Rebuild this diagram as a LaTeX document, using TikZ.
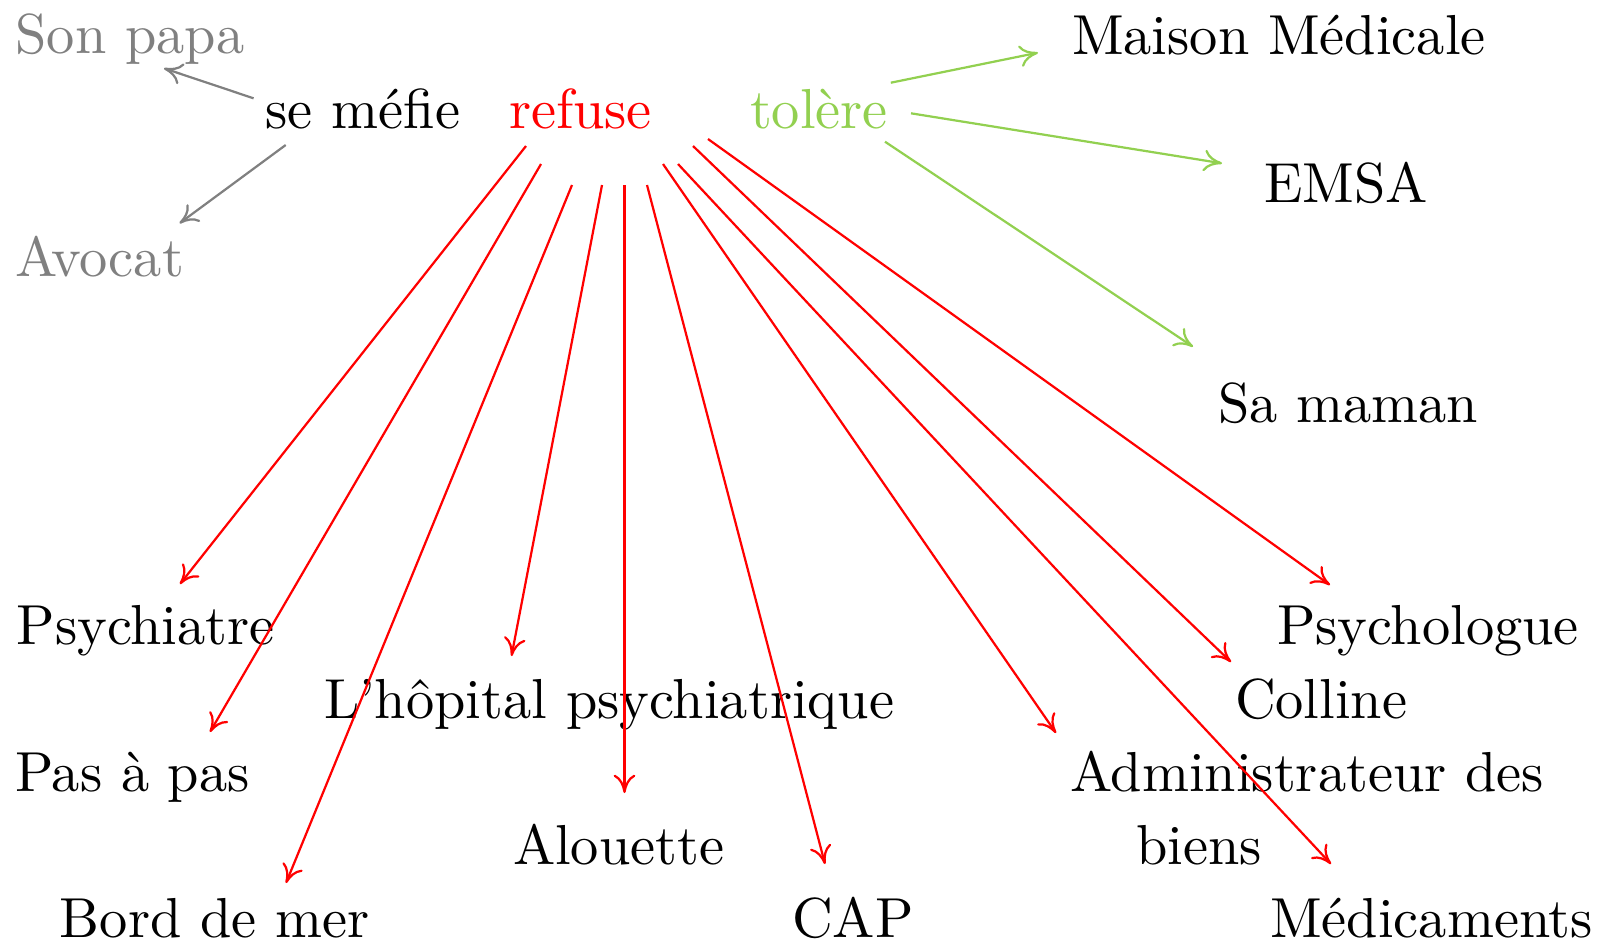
\documentclass[tikz,border=0pt]{standalone}
\usetikzlibrary{calc,arrows.meta}
\definecolor{lgreen}{RGB}{146,208,80}
\begin{document}
\begin{tikzpicture}[x=0.18pt,y=-0.18pt,
  lbl/.style={anchor=base west,inner sep=0pt,outer sep=0pt,font=\fontsize{10.15}{13.1}\selectfont},
  link/.style={-{To[length=3.3pt,width=3.9pt]},line width=0.4pt}]
\useasboundingbox (0,0) rectangle (1602,944);
% nodes
\node[lbl,text=gray] (sonpapa) at (15.6,53) {Son papa};
\node[lbl] (semefie) at (265.6,128) {se méfie};
\node[lbl,text=red] (refuse) at (509,128) {refuse};
\node[lbl,text=lgreen] (tolere) at (750,128) {tolère};
\node[lbl] (maison) at (1072,54) {Maison Médicale};
\node[lbl] (emsa) at (1264,202) {EMSA};
\node[lbl,text=gray] (avocat) at (15,276) {Avocat};
\node[lbl] (samaman) at (1218,422) {Sa maman};
\node[lbl] (psychiatre) at (16.7,644) {Psychiatre};
\node[lbl] (psychologue) at (1277,644) {Psychologue};
\node[lbl] (hopital) at (324,718) {L’hôpital psychiatrique};
\node[lbl] (colline) at (1235,718) {Colline};
\node[lbl] (pasapas) at (15,791) {Pas à pas};
\node[lbl,align=left] (admin) at (1070,864) {Administrateur des\\\hspace*{11.9pt}biens};
\node[lbl] (alouette) at (513,864) {Alouette};
\node[lbl] (bordmer) at (60,937) {Bord de mer};
\node[lbl] (cap) at (792,937) {CAP};
\node[lbl] (medicaments) at (1270,937) {Médicaments};
% gray connectors
\draw[link,gray] ([shift={(253.6-265.6,98.3-128)}]semefie.base west) -- ([shift={(164-15.6,68.3-53)}]sonpapa.base west);
\draw[link,gray] ([shift={(285.7-265.6,145-128)}]semefie.base west) -- ([shift={(179.5-15,223.3-276)}]avocat.base west);
% green connectors
\draw[link,lgreen] ([shift={(890.8-750,82.7-128)}]tolere.base west) -- ([shift={(1038-1072,52.7-54)}]maison.base west);
\draw[link,lgreen] ([shift={(911-750,113.3-128)}]tolere.base west) -- ([shift={(1222-1264,163.3-202)}]emsa.base west);
\draw[link,lgreen] ([shift={(885-750,141.7-128)}]tolere.base west) -- ([shift={(1193-1218,346.7-422)}]samaman.base west);
% red connectors
\draw[link,red] ([shift={(526-509,146-128)}]refuse.base west) -- ([shift={(180-16.7,584-644)}]psychiatre.base west);
\draw[link,red] ([shift={(541-509,164-128)}]refuse.base west) -- ([shift={(210-15,732-791)}]pasapas.base west);
\draw[link,red] ([shift={(572-509,185-128)}]refuse.base west) -- ([shift={(286-60,883-937)}]bordmer.base west);
\draw[link,red] ([shift={(602-509,185-128)}]refuse.base west) -- ([shift={(511.5-324,656-718)}]hopital.base west);
\draw[link,red] ([shift={(624.5-509,185-128)}]refuse.base west) -- ([shift={(624.5-513,793-864)}]alouette.base west);
\draw[link,red] ([shift={(647-509,185-128)}]refuse.base west) -- ([shift={(825-792,864-937)}]cap.base west);
\draw[link,red] ([shift={(663-509,164-128)}]refuse.base west) -- ([shift={(1056-1070,733-864)}]admin.base west);
\draw[link,red] ([shift={(678-509,164-128)}]refuse.base west) -- ([shift={(1331-1270,864-937)}]medicaments.base west);
\draw[link,red] ([shift={(693-509,146-128)}]refuse.base west) -- ([shift={(1231-1235,662-718)}]colline.base west);
\draw[link,red] ([shift={(708-509,139-128)}]refuse.base west) -- ([shift={(1330-1277,585-644)}]psychologue.base west);
\end{tikzpicture}
\end{document}
